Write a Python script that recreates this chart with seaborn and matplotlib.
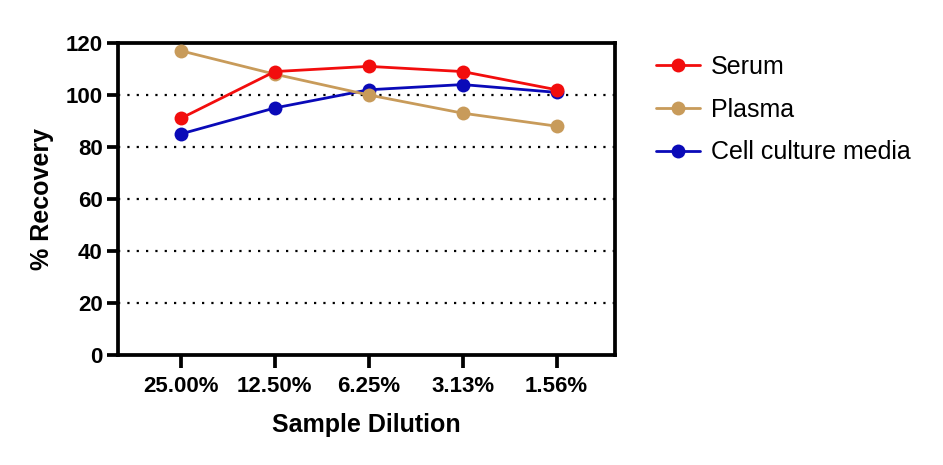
import matplotlib
matplotlib.use("Agg")
import matplotlib.pyplot as plt
import seaborn as sns
import pandas as pd

categories = ["25.00%", "12.50%", "6.25%", "3.13%", "1.56%"]
serum = [91, 109, 111, 109, 102]
plasma = [117, 108, 100, 93, 88]
cell_media = [85, 95, 102, 104, 101]
y_ticks = [0, 20, 40, 60, 80, 100, 120]

series = {"Serum": serum, "Plasma": plasma, "Cell culture media": cell_media}
colors = {"Serum": "#F20D0D", "Plasma": "#C89B5A", "Cell culture media": "#0A0AB8"}

rows = []
for name, vals in series.items():
    for i, (c, v) in enumerate(zip(categories, vals)):
        rows.append({"Series": name, "idx": i, "Dilution": c, "Recovery": v})
df = pd.DataFrame(rows)

sns.set_theme(style="white")
plt.rcParams["font.family"] = ["Liberation Sans", "DejaVu Sans"]

fig = plt.figure(figsize=(9.43, 4.65), dpi=100)
ax = fig.add_axes([0.125, 0.2366, 0.527, 0.671])

handles = {}
for name in ["Cell culture media", "Plasma", "Serum"]:
    sub = df[df["Series"] == name]
    sns.lineplot(data=sub, x="idx", y="Recovery", ax=ax, color=colors[name],
                 marker="o", markersize=10, markeredgewidth=0, linewidth=2.0,
                 label=name, legend=False, zorder=3)
    handles[name] = ax.get_lines()[-1]

for y in y_ticks[1:-1]:
    ax.axhline(y, color="black", linestyle=(0, (1, 3.2)), linewidth=1.6, zorder=1)

ax.set_xlim(-0.67, 4.62)
ax.set_ylim(0, 120)
ax.set_yticks(y_ticks)
ax.set_xticks(range(len(categories)))
ax.set_xticklabels(categories)

for s in ax.spines.values():
    s.set_visible(True)
    s.set_linewidth(2.7)
    s.set_color("black")

ax.tick_params(axis="both", which="major", direction="out", length=8, width=2.7,
               color="black", labelsize=16, pad=3, left=True, bottom=True)
ax.tick_params(axis="x", length=9, pad=6)
for lbl in ax.get_xticklabels() + ax.get_yticklabels():
    lbl.set_fontweight("bold")
    lbl.set_color("black")

ax.set_xlabel("Sample Dilution", fontsize=18, fontweight="bold", color="black", labelpad=12)
ax.set_ylabel("% Recovery", fontsize=18, fontweight="bold", color="black", labelpad=8)
ax.grid(False)

order = ["Serum", "Plasma", "Cell culture media"]
leg = ax.legend([handles[n] for n in order], order, loc="upper left",
                bbox_to_anchor=(1.053, 1.01), frameon=False, fontsize=18,
                handlelength=1.75, labelspacing=0.75, handletextpad=0.45,
                borderaxespad=0.2)
for t in leg.get_texts():
    t.set_color("black")

fig.savefig("out.png", dpi=100)
